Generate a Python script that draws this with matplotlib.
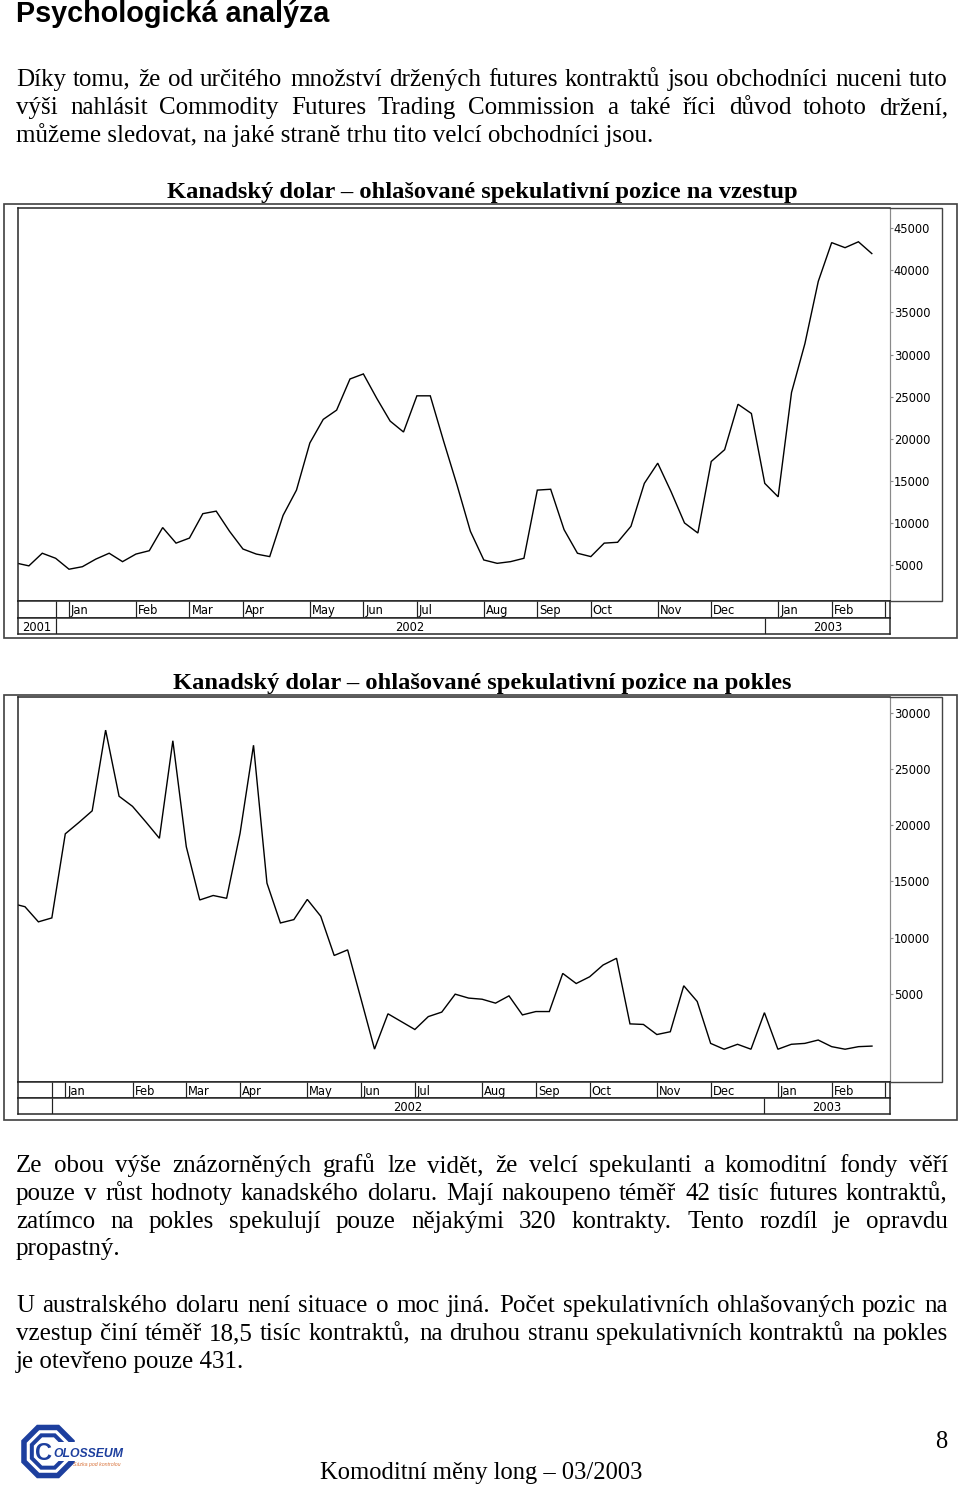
import numpy as np
import matplotlib
matplotlib.use("Agg")
import matplotlib.pyplot as plt
from matplotlib.patches import Rectangle, RegularPolygon
import matplotlib.transforms as mtransforms

# ---------------------------------------------------------------- data
# weekly COT reports (Tuesdays), 4 Dec 2001 ... 25 Feb 2003, week index 0..64
long_positions = [
    5250, 4900, 6400, 5800, 4500, 4800, 5700, 6400, 5400, 6300,
    6700, 9450, 7600, 8200, 11100, 11400, 9000, 6900, 6300, 6000,
    10900, 13900, 19500, 22300, 23400, 27100, 27700, 24800, 22100, 20800,
    25100, 25100, 19700, 14500, 9000, 5600, 5200, 5400, 5800, 13900,
    14000, 9200, 6400, 6000, 7600, 7700, 9600, 14700, 17100, 13700,
    10000, 8800, 17300, 18700, 24100, 23000, 14700, 13100, 25500, 31300,
    38700, 43300, 42700, 43400, 42000,
]
short_positions = [
    13050, 12750, 11400, 11750, 19250, 20250, 21300, 28500, 22600, 21700,
    20300, 18850, 27550, 18100, 13350, 13750, 13500, 19300, 27150, 14850,
    11300, 11600, 13400, 11900, 8400, 8900, 4500, 50, 3200, 2500,
    1800, 2950, 3350, 4950, 4600, 4500, 4150, 4800, 3100, 3400,
    3400, 6800, 5900, 6500, 7550, 8150, 2300, 2250, 1350, 1600,
    5700, 4300, 560, 40, 480, 40, 3300, 40, 480, 560,
    860, 270, 40, 270, 320,
]
month_labels = ["Jan", "Feb", "Mar", "Apr", "May", "Jun", "Jul", "Aug",
                "Sep", "Oct", "Nov", "Dec", "Jan", "Feb", ""]
month_first_week = [4, 9, 13, 17, 22, 26, 30, 35, 39, 43, 48, 52, 57, 61, 65]
year_labels = ["2001", "2002", "2003"]
year_first_week = [3, 56]
long_ticks = [5000, 10000, 15000, 20000, 25000, 30000, 35000, 40000, 45000]
short_ticks = [5000, 10000, 15000, 20000, 25000, 30000]

title_long = "Kanadský dolar – ohlašované spekulativní pozice na vzestup"
title_short = "Kanadský dolar – ohlašované spekulativní pozice na pokles"
heading = "Psychologická analýza"
para1 = [
    "Díky tomu, že od určitého množství držených futures kontraktů jsou obchodníci nuceni tuto",
    "výši nahlásit Commodity Futures Trading Commission a také říci důvod tohoto držení,",
    "můžeme sledovat, na jaké straně trhu tito velcí obchodníci jsou.",
]
para2 = [
    "Ze obou výše znázorněných grafů lze vidět, že velcí spekulanti a komoditní fondy věří",
    "pouze v růst hodnoty kanadského dolaru. Mají nakoupeno téměř 42 tisíc futures kontraktů,",
    "zatímco na pokles spekulují pouze nějakými 320 kontrakty. Tento rozdíl je opravdu",
    "propastný.",
]
para3 = [
    "U australského dolaru není situace o moc jiná. Počet spekulativních ohlašovaných pozic na",
    "vzestup činí téměř 18,5 tisíc kontraktů, na druhou stranu spekulativních kontraktů na pokles",
    "je otevřeno pouze 431.",
]
footer = "Komoditní měny long – 03/2003"
page_no = "8"

# ---------------------------------------------------------------- figure
W, H, DPI = 960, 1486, 100
fig = plt.figure(figsize=(W / DPI, H / DPI), dpi=DPI)
fig.patch.set_facecolor("white")
renderer = fig.canvas.get_renderer()

def rect(x0, y0, x1, y1):
    return [x0 / W, 1 - y1 / H, (x1 - x0) / W, (y1 - y0) / H]

page = fig.add_axes([0, 0, 1, 1], zorder=10)
page.set_xlim(0, W)
page.set_ylim(H, 0)
page.axis("off")
page.patch.set_alpha(0)

SERIF = "Liberation Serif"
SANS = "Liberation Sans"
SMALL = "DejaVu Sans"
PX = 0.72  # points per pixel

def text_w(s, **kw):
    t = page.text(0, 100, s, **kw)
    w = t.get_window_extent(renderer).width
    t.remove()
    return w

def fit_size(s, target, **kw):
    return 20 * target / text_w(s, fontsize=20, **kw)

def line(x0, x1, y, s, justify, **kw):
    if not justify:
        page.text(x0, y, s, ha="left", va="baseline", **kw)
        return
    words = s.split(" ")
    ws = [text_w(w, **kw) for w in words]
    gap = (x1 - x0 - sum(ws)) / (len(words) - 1)
    x = x0
    for w, wd in zip(words, ws):
        page.text(round(x), y, w, ha="left", va="baseline", **kw)
        x += wd + gap

# heading
hs = fit_size(heading, 312, family=SANS, weight="bold")
page.text(16, 22, heading, family=SANS, weight="bold", fontsize=hs,
          ha="left", va="baseline", color="black")

# body text size
bs = fit_size(para1[2], 636, family=SERIF)
bkw = dict(family=SERIF, fontsize=bs, color="black")

def paragraph(lines, y0, step=27.8):
    for i, s in enumerate(lines):
        line(16, 948, round(y0 + i * step), s, i < len(lines) - 1, **bkw)

paragraph(para1, 86.5)
paragraph(para2, 1172)
paragraph(para3, 1312.5)

# chart titles
ts = fit_size(title_long, 630, family=SERIF, weight="bold")
page.text(482, 198, title_long, family=SERIF, weight="bold", fontsize=ts,
          ha="center", va="baseline", color="black")
page.text(482, 689, title_short, family=SERIF, weight="bold", fontsize=ts,
          ha="center", va="baseline", color="black")

# footer
fs = fit_size(footer, 322, family=SERIF)
page.text(481, 1479, footer, family=SERIF, fontsize=fs, ha="center",
          va="baseline", color="black")
page.text(947, 1448, page_no, family=SERIF, fontsize=fs, ha="right",
          va="baseline", color="black")

# logo
BLUE = "#1d3f9e"
page.add_patch(RegularPolygon((48, 1451.5), 8, radius=26.0, orientation=np.pi / 8,
                              fill=False, ec=BLUE, lw=5.5 * PX))
page.add_patch(RegularPolygon((48, 1451.5), 8, radius=17.5, orientation=np.pi / 8,
                              fill=False, ec=BLUE, lw=4.0 * PX))
page.add_patch(Rectangle((58, 1441.5), 24, 19, fc="white", ec="none"))
page.text(51.5, 1460, "C", family=SANS, weight="bold",
          fontsize=17, color=BLUE, ha="right", va="baseline")
ls = fit_size("OLOSSEUM", 70, family=SANS, weight="bold", style="italic")
page.text(53, 1457, "OLOSSEUM", family=SANS, weight="bold", style="italic",
          fontsize=ls, color=BLUE, ha="left", va="baseline")
page.text(73, 1466, "Sázka pod kontrolou", family=SANS, style="italic",
          fontsize=3.8, color="#d9743c", ha="left", va="baseline")

# ---------------------------------------------------------------- charts
DARK = "#222222"
GREY = "#8a8a8a"
LAB = 8.3

def chart(values, ticks, geo, show_first_year):
    x0, top, x1, bot, mrow, yrow, xlim, ylim, outer = geo
    weeks = np.arange(len(values))
    # outer frame
    ox0, oy0, ox1, oy1 = outer
    page.add_patch(Rectangle((ox0, oy0), ox1 - ox0, oy1 - oy0, fill=False,
                             ec="#444444", lw=1.7 * PX))
    # label box (top, right, bottom)
    page.plot([x1, 942, 942, x1], [top, top, bot, bot], color="#444444",
              lw=1.4 * PX, solid_joinstyle="miter")

    ax = fig.add_axes(rect(x0, top, x1, bot))
    ax.plot(weeks, values, color="black", lw=1.4 * PX, solid_joinstyle="miter")
    ax.set_xlim(*xlim)
    ax.set_ylim(*ylim)
    ax.set_xticks([])
    ax.yaxis.tick_right()
    ax.set_yticks(ticks)
    ax.set_yticklabels([str(t) for t in ticks])
    ax.tick_params(axis="y", direction="out", length=3 * PX, width=0.8,
                   color=GREY, pad=0.5, labelsize=LAB, labelcolor="black")
    for lab in ax.get_yticklabels():
        lab.set_family(SMALL)
    for s in ("left", "top", "bottom"):
        ax.spines[s].set_color(DARK)
        ax.spines[s].set_linewidth(1.5 * PX)
    ax.spines["right"].set_color(GREY)
    ax.spines["right"].set_linewidth(1.2 * PX)

    # month row
    axm = fig.add_axes(rect(x0, bot, x1, mrow))
    axm.set_xlim(*xlim)
    axm.set_ylim(0, 1)
    axm.set_xticks([])
    axm.set_yticks([])
    seps = [year_first_week[0]] + month_first_week
    axm.vlines(seps, 0, 1, color=DARK, lw=1.2 * PX)
    off = mtransforms.offset_copy(axm.transData, fig=fig, x=2, y=0, units="dots")
    for w, lab in zip(month_first_week, month_labels):
        axm.text(w, 0.42, lab, transform=off, ha="left", va="center",
                 family=SMALL, fontsize=LAB, color="black")
    # year row
    axy = fig.add_axes(rect(x0, mrow, x1, yrow))
    axy.set_xlim(*xlim)
    axy.set_ylim(0, 1)
    axy.set_xticks([])
    axy.set_yticks([])
    axy.vlines(year_first_week, 0, 1, color=DARK, lw=1.2 * PX)
    bounds = [xlim[0]] + year_first_week + [xlim[1]]
    for i, lab in enumerate(year_labels):
        if i == 0 and not show_first_year:
            continue
        axy.text((bounds[i] + bounds[i + 1]) / 2, 0.42, lab, ha="center",
                 va="center", family=SMALL, fontsize=LAB, color="black")
    for a in (axm, axy):
        for s in a.spines.values():
            s.set_color(DARK)
            s.set_linewidth(1.5 * PX)

chart(long_positions, long_ticks,
      (18, 208, 890, 601, 617.7, 634.3, (0.187, 65.36), (725, 47413),
       (4, 204, 957, 638)), True)
chart(short_positions, short_ticks,
      (18, 697.3, 890, 1082, 1098.3, 1114.3, (0.483, 65.34), (-2883, 31425),
       (4, 694.7, 957, 1120)), False)

fig.savefig("out.png", dpi=DPI, facecolor="white")
